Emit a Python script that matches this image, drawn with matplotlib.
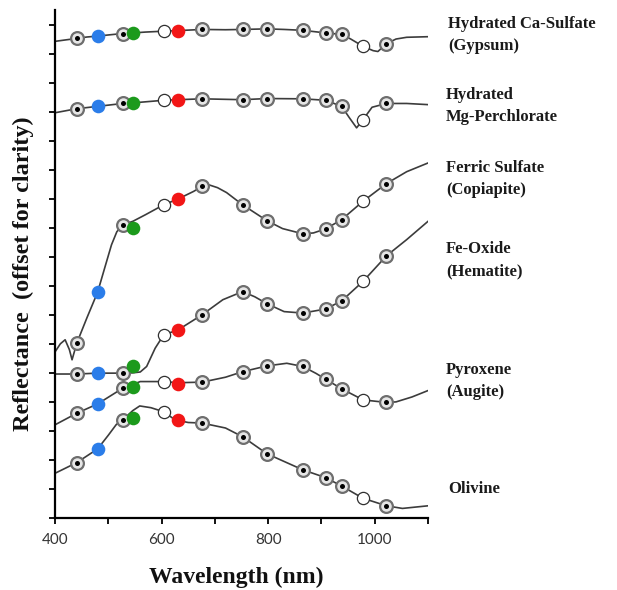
import matplotlib.pyplot as plt
import numpy as np

# filter wavelengths (nm) of the markers
ring_nm = [441, 527, 676, 752, 798, 865, 908, 938, 1022]
open_nm = [604, 978]
rgb_nm = [480, 546, 631]
rgb_colors = ['#2b7de9', '#1c9a1c', '#f21616']

# spectra, offset units (one y tick = 1)
gyp_nm = [400, 420, 441, 460, 480, 500, 527, 546, 570, 604, 631, 676, 720, 752, 798, 830,
          865, 908, 938, 955, 978, 997, 1006, 1022, 1040, 1060, 1100]
gyp = [16.42, 16.47, 16.52, 16.57, 16.60, 16.64, 16.69, 16.71, 16.74, 16.77, 16.79, 16.83, 16.82,
       16.83, 16.85, 16.83, 16.80, 16.71, 16.66, 16.50, 16.25, 16.10, 16.07, 16.34, 16.50, 16.56, 16.58]
gyp_rgb = [16.60, 16.71, 16.79]

per_nm = [400, 441, 480, 527, 546, 604, 631, 676, 752, 798, 865, 908, 938, 952, 966, 978,
          995, 1022, 1060, 1100]
per = [13.96, 14.10, 14.18, 14.28, 14.30, 14.39, 14.41, 14.44, 14.41, 14.45, 14.44, 14.39, 14.18,
       13.80, 13.44, 13.72, 14.15, 14.28, 14.28, 14.24]
per_rgb = [14.18, 14.30, 14.41]

cop_nm = [400, 410, 419, 427, 432, 441, 460, 480, 494, 506, 516, 527, 546, 570, 604, 631, 660,
          676, 690, 705, 722, 752, 798, 827, 865, 885, 908, 938, 978, 1022, 1060, 1100]
cop = [5.72, 6.00, 6.14, 5.80, 5.45, 6.03, 6.90, 7.78, 8.66, 9.41, 9.86, 10.10, 10.22, 10.45,
       10.79, 10.99, 11.25, 11.42, 11.47, 11.38, 11.21, 10.79, 10.24, 9.97, 9.79, 9.82, 9.96,
       10.28, 10.91, 11.52, 11.93, 12.23]
cop_rgb = [7.78, 9.99, 10.99]

hem_nm = [400, 441, 480, 527, 546, 560, 572, 588, 604, 631, 676, 715, 752, 775, 798, 830, 865,
          908, 938, 978, 1022, 1060, 1100]
hem = [4.96, 4.96, 4.99, 4.99, 5.00, 5.03, 5.22, 5.85, 6.31, 6.48, 7.00, 7.52, 7.80, 7.62, 7.38,
       7.11, 7.06, 7.20, 7.48, 8.15, 9.03, 9.59, 10.22]
hem_rgb = [4.99, 5.22, 6.48]

pyx_nm = [400, 441, 480, 527, 546, 560, 604, 631, 676, 720, 752, 798, 835, 865, 890, 908, 938,
          978, 1022, 1040, 1070, 1100]
pyx = [3.21, 3.61, 3.93, 4.47, 4.60, 4.70, 4.70, 4.66, 4.68, 4.85, 5.04, 5.24, 5.33, 5.22, 4.98,
       4.78, 4.45, 4.07, 3.98, 4.00, 4.17, 4.39]
pyx_rgb = [3.93, 4.53, 4.61]

oli_nm = [400, 420, 441, 480, 500, 515, 527, 546, 559, 580, 604, 620, 631, 650, 676, 720, 752,
          798, 865, 908, 938, 978, 1022, 1052, 1100]
oli = [1.54, 1.72, 1.91, 2.38, 2.85, 3.22, 3.38, 3.70, 3.86, 3.80, 3.66, 3.45, 3.36, 3.29, 3.27,
       3.10, 2.80, 2.21, 1.66, 1.39, 1.10, 0.68, 0.42, 0.33, 0.42]
oli_rgb = [2.38, 3.44, 3.36]

spectra = [(gyp_nm, gyp, gyp_rgb), (per_nm, per, per_rgb), (cop_nm, cop, cop_rgb),
           (hem_nm, hem, hem_rgb), (pyx_nm, pyx, pyx_rgb), (oli_nm, oli, oli_rgb)]

labels = [('Hydrated Ca-Sulfate', 448, 28), ('(Gypsum)', 448, 50),
          ('Hydrated', 446, 99), ('Mg-Perchlorate', 446, 121),
          ('Ferric Sulfate', 446, 172), ('(Copiapite)', 446, 194),
          ('Fe-Oxide', 446, 253), ('(Hematite)', 446, 275),
          ('Pyroxene', 446, 374), ('(Augite)', 446, 396),
          ('Olivine', 448, 493)]

W, H = 617, 590
fig = plt.figure(figsize=(W / 100, H / 100), dpi=100)
ax = fig.add_axes([55 / W, 1 - 518 / H, (428 - 55) / W, (518 - 10) / H])

for nm, val, rgb in spectra:
    ax.plot(nm, val, color='#3c3c3c', lw=1.2, zorder=2, solid_joinstyle='round')
    lookup = dict(zip(nm, val))
    rx = ring_nm
    ry = [lookup[w] for w in rx]
    ax.plot(rx, ry, 'o', ms=9.2, mfc='#e6e6e6', mec='#6e6e6e', mew=1.6, zorder=3)
    ax.plot(rx, ry, 'o', ms=3.6, mfc='black', mec='black', mew=0, zorder=4)
    oy = [lookup[w] for w in open_nm]
    ax.plot(open_nm, oy, 'o', ms=8.8, mfc='white', mec='#303030', mew=0.9, zorder=3)
    for w, v, c in zip(rgb_nm, rgb, rgb_colors):
        ax.plot(w, v, 'o', ms=9.8, mfc=c, mec=c, mew=0, zorder=5)

ax.set_xlim(400, 1100)
ax.set_ylim(0, 17.5)
ax.set_xticks([400, 600, 800, 1000])
ax.set_xticks([500, 700, 900, 1100], minor=True)
ax.set_yticks(np.arange(0, 18))
ax.set_yticklabels([])
for s in ['top', 'right']:
    ax.spines[s].set_visible(False)
for s in ['left', 'bottom']:
    ax.spines[s].set_linewidth(1.6)
ax.tick_params(axis='both', which='both', direction='out', length=4, width=1.4, color='#111111')
ax.tick_params(axis='x', which='major', pad=7, labelsize=11, labelcolor='#333333')
for t in ax.get_xticklabels():
    t.set_family('Lato')

for txt, x, y in labels:
    fig.text(x / W, 1 - y / H, txt, family='Liberation Serif', weight='bold', fontsize=12,
             va='baseline', ha='left', color='#1a1a1a')

fig.text(23 / W, 1 - 274 / H, 'Reflectance  (offset for clarity)', family='Liberation Serif',
         weight='bold', fontsize=17.5, rotation=90, va='center', ha='center', color='#111111')
fig.text(236 / W, 1 - 583 / H, 'Wavelength (nm)', family='Liberation Serif', weight='bold',
         fontsize=17, va='baseline', ha='center', color='#111111')

fig.savefig('out.png', dpi=100, facecolor='white')
